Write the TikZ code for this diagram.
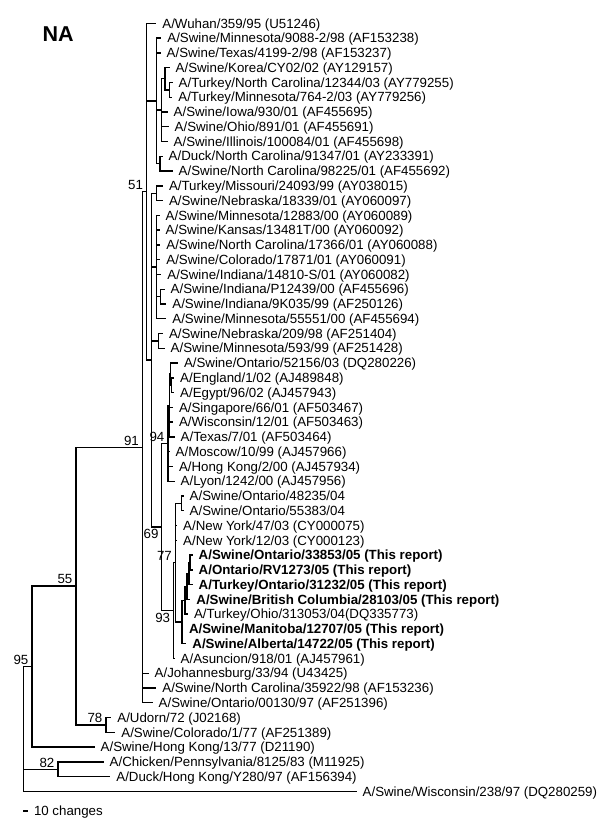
\documentclass[tikz,border=0pt]{standalone}
\usepackage{fontspec}
\setmainfont{Liberation Sans}

\begin{document}
\begin{tikzpicture}[x=1pt,y=-1pt,line width=1.4pt,
  txt/.style={inner sep=0pt,text height=9.5pt,text depth=0pt,font=\fontsize{13.3}{15}\selectfont},
  tax/.style={txt,anchor=west,inner xsep=5.5pt},
  taxb/.style={tax,font=\fontsize{13.3}{15}\selectfont\bfseries},
  boot/.style={txt,anchor=south east,xshift=-3pt,yshift=1.5pt},
  bootb/.style={txt,anchor=north east,xshift=-2.5pt,yshift=-1.5pt}]
\useasboundingbox (0,0) rectangle (600,835);
\node[anchor=south west,inner sep=0pt,font=\fontsize{21.5}{24}\selectfont\bfseries] (title) at (42,41.7) {NA};

% inner nodes
\coordinate (r) at (23.3,728.9);
\coordinate (n95) at (32,666.5);
\coordinate (n82) at (58,769.2);
\coordinate (n55) at (76,586.1);
\coordinate (n78) at (106,724.9);
\coordinate (n91) at (142.5,447.2);
\coordinate (n51) at (146.7,191.7);
\coordinate (c1) at (156.5,100.9);
\coordinate (c2) at (161.7,110.1);
\coordinate (c3) at (165,78.7);
\coordinate (c4) at (169.3,89.8);
\coordinate (c5) at (160,163.6);
\coordinate (c6) at (151.7,360);
\coordinate (c7) at (156.7,193.2);
\coordinate (c8) at (156.3,267);
\coordinate (c9) at (160.5,296.6);
\coordinate (c10) at (158.5,340.9);
\coordinate (n69) at (161.7,526.9);
\coordinate (n94) at (168,443.4);
\coordinate (c11) at (169.5,405.5);
\coordinate (c12) at (170.5,374.1);
\coordinate (c13) at (171.3,385.2);
\coordinate (n93) at (173.3,610.5);
\coordinate (n77) at (175.5,562.6);
\coordinate (c14) at (181.7,503.3);
\coordinate (c15) at (182,621.9);
\coordinate (c16) at (185,600.3);
\coordinate (c17) at (187,586.4);
\coordinate (c18) at (188.8,573.5);
\coordinate (c19) at (190,562.4);

% taxa
\node[tax] (t1) at (156.2,23.3) {A/Wuhan/359/95 (U51246)};
\node[tax] (t2) at (161.2,38.1) {A/Swine/Minnesota/9088-2/98 (AF153238)};
\node[tax] (t3) at (160.5,52.8) {A/Swine/Texas/4199-2/98 (AF153237)};
\node[tax] (t4) at (169.5,67.6) {A/Swine/Korea/CY02/02 (AY129157)};
\node[tax] (t5) at (172.5,82.4) {A/Turkey/North Carolina/12344/03 (AY779255)};
\node[tax] (t6) at (172.2,97.2) {A/Turkey/Minnesota/764-2/03 (AY779256)};
\node[tax] (t7) at (167.5,111.9) {A/Swine/Iowa/930/01 (AF455695)};
\node[tax] (t8) at (168.5,126.7) {A/Swine/Ohio/891/01 (AF455691)};
\node[tax] (t9) at (167.5,141.5) {A/Swine/Illinois/100084/01 (AF455698)};
\node[tax] (t10) at (162.5,156.2) {A/Duck/North Carolina/91347/01 (AY233391)};
\node[tax] (t11) at (172.5,171.0) {A/Swine/North Carolina/98225/01 (AF455692)};
\node[tax] (t12) at (162.8,185.8) {A/Turkey/Missouri/24093/99 (AY038015)};
\node[tax] (t13) at (162.8,200.5) {A/Swine/Nebraska/18339/01 (AY060097)};
\node[tax] (t14) at (159.5,215.3) {A/Swine/Minnesota/12883/00 (AY060089)};
\node[tax] (t15) at (159.5,230.1) {A/Swine/Kansas/13481T/00 (AY060092)};
\node[tax] (t16) at (160.2,244.9) {A/Swine/North Carolina/17366/01 (AY060088)};
\node[tax] (t17) at (160.2,259.6) {A/Swine/Colorado/17871/01 (AY060091)};
\node[tax] (t18) at (161.2,274.4) {A/Swine/Indiana/14810-S/01 (AY060082)};
\node[tax] (t19) at (164.5,289.2) {A/Swine/Indiana/P12439/00 (AF455696)};
\node[tax] (t20) at (166.2,303.9) {A/Swine/Indiana/9K035/99 (AF250126)};
\node[tax] (t21) at (166.2,318.7) {A/Swine/Minnesota/55551/00 (AF455694)};
\node[tax] (t22) at (162.8,333.5) {A/Swine/Nebraska/209/98 (AF251404)};
\node[tax] (t23) at (164.5,348.2) {A/Swine/Minnesota/593/99 (AF251428)};
\node[tax] (t24) at (177.8,363.0) {A/Swine/Ontario/52156/03 (DQ280226)};
\node[tax] (t25) at (174,377.8) {A/England/1/02 (AJ489848)};
\node[tax] (t26) at (174,392.6) {A/Egypt/96/02 (AJ457943)};
\node[tax] (t27) at (172.8,407.3) {A/Singapore/66/01 (AF503467)};
\node[tax] (t28) at (172.8,422.1) {A/Wisconsin/12/01 (AF503463)};
\node[tax] (t29) at (174.5,436.9) {A/Texas/7/01 (AF503464)};
\node[tax] (t30) at (169.5,451.6) {A/Moscow/10/99 (AJ457966)};
\node[tax] (t31) at (172.8,466.4) {A/Hong Kong/2/00 (AJ457934)};
\node[tax] (t32) at (174.5,481.2) {A/Lyon/1242/00 (AJ457956)};
\node[tax] (t33) at (183.5,495.9) {A/Swine/Ontario/48235/04};
\node[tax] (t34) at (183.5,510.7) {A/Swine/Ontario/55383/04};
\node[tax] (t35) at (177,525.5) {A/New York/47/03 (CY000075)};
\node[tax] (t36) at (177,540.3) {A/New York/12/03 (CY000123)};
\node[taxb] (t37) at (192.5,555.0) {A/Swine/Ontario/33853/05 (This report)};
\node[taxb] (t38) at (192.5,569.8) {A/Ontario/RV1273/05 (This report)};
\node[taxb] (t39) at (192.5,584.6) {A/Turkey/Ontario/31232/05 (This report)};
\node[taxb] (t40) at (190.2,599.3) {A/Swine/British Columbia/28103/05 (This report)};
\node[tax] (t41) at (187.8,614.1) {A/Turkey/Ohio/313053/04(DQ335773)};
\node[taxb] (t42) at (182.8,628.9) {A/Swine/Manitoba/12707/05 (This report)};
\node[taxb] (t43) at (186.2,643.6) {A/Swine/Alberta/14722/05 (This report)};
\node[tax] (t44) at (174.5,658.4) {A/Asuncion/918/01 (AJ457961)};
\node[tax] (t45) at (148.5,673.2) {A/Johannesburg/33/94 (U43425)};
\node[tax] (t46) at (156.2,688.0) {A/Swine/North Carolina/35922/98 (AF153236)};
\node[tax] (t47) at (152.5,702.7) {A/Swine/Ontario/00130/97 (AF251396)};
\node[tax] (t48) at (111.2,717.5) {A/Udorn/72 (J02168)};
\node[tax] (t49) at (115.2,732.3) {A/Swine/Colorado/1/77 (AF251389)};
\node[tax] (t50) at (94.5,747.0) {A/Swine/Hong Kong/13/77 (D21190)};
\node[tax] (t51) at (103.5,761.8) {A/Chicken/Pennsylvania/8125/83 (M11925)};
\node[tax] (t52) at (110.2,776.6) {A/Duck/Hong Kong/Y280/97 (AF156394)};
\node[tax] (t53) at (356.5,791.3) {A/Swine/Wisconsin/238/97 (DQ280259)};

% branches
\draw (r) |- (n95) (r) |- (n82) (r) |- (t53.west)
      (n95) |- (n55) (n95) |- (t50.west)
      (n82) |- (t51.west) (n82) |- (t52.west)
      (n55) |- (n91) (n55) |- (n78)
      (n78) |- (t48.west) (n78) |- (t49.west)
      (n91) |- (n51) (n91) |- (t45.west) (n91) |- (t46.west) (n91) |- (t47.west)
      (n51) |- (t1.west) (n51) |- (c1) (n51) |- (c6)
      (c1) |- (t2.west) (c1) |- (t3.west) (c1) |- (c2) (c1) |- (c5)
      (c2) |- (c3) (c2) |- (t7.west) (c2) |- (t8.west) (c2) |- (t9.west)
      (c3) |- (t4.west) (c3) |- (c4)
      (c4) |- (t5.west) (c4) |- (t6.west)
      (c5) |- (t10.west) (c5) |- (t11.west)
      (c6) |- (c7) (c6) |- (c8) (c6) |- (c10) (c6) |- (n69)
      (c7) |- (t12.west) (c7) |- (t13.west)
      (c8) |- (t14.west) (c8) |- (t15.west) (c8) |- (t16.west) (c8) |- (t17.west)
      (c8) |- (t18.west) (c8) |- (c9) (c8) |- (t21.west)
      (c9) |- (t19.west) (c9) |- (t20.west)
      (c10) |- (t22.west) (c10) |- (t23.west)
      (n69) |- (n94) (n69) |- (n93)
      (n94) |- (c11) (n94) |- (t30.west) (n94) |- (t31.west) (n94) |- (t32.west)
      (c11) |- (c12) (c11) |- (t27.west) (c11) |- (t28.west) (c11) |- (t29.west)
      (c12) |- (t24.west) (c12) |- (c13)
      (c13) |- (t25.west) (c13) |- (t26.west)
      (n93) |- (n77) (n93) |- (t44.west)
      (n77) |- (c14) (n77) |- (t35.west) (n77) |- (t36.west) (n77) |- (c15)
      (c14) |- (t33.west) (c14) |- (t34.west)
      (c15) |- (c16) (c15) |- (t42.west) (c15) |- (t43.west)
      (c16) |- (c17) (c16) |- (t41.west)
      (c17) |- (c18) (c17) |- (t40.west)
      (c18) |- (c19) (c18) |- (t39.west)
      (c19) |- (t37.west) (c19) |- (t38.west)
      ;

% bootstrap values
\node[boot] (b95) at (n95) {95};
\node[boot] (b82) at (n82) {82};
\node[boot] (b55) at (n55) {55};
\node[boot] (b78) at (n78) {78};
\node[boot] (b91) at (n91) {91};
\node[boot] (b51) at (n51) {51};
\node[boot] (b94) at (n94) {94};
\node[boot] (b77) at (n77) {77};
\node[bootb] (b69) at (n69) {69};
\node[bootb] (b93) at (n93) {93};

% scale
\coordinate (sb) at (23.3,811);
\node[tax] (sbl) at (27.8,811) {10 changes};
\draw (sb) -- (sbl.west);
\end{tikzpicture}
\end{document}
